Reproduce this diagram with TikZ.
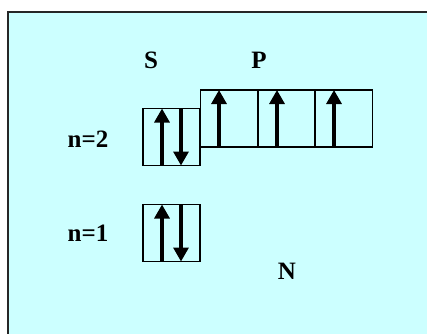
\documentclass[tikz,border=0pt]{standalone}
\usepackage{fontspec}
\setmainfont{Liberation Serif}
\usetikzlibrary{arrows.meta}
\definecolor{bgcyan}{HTML}{CCFFFF}
\begin{document}
\begin{tikzpicture}[x=1pt, y=-1pt]
        \tikzset{
            orbital/.style={rectangle, draw, line width=1.6pt, minimum width=57pt, minimum height=57pt, inner sep=0pt, outer sep=0pt},
            label/.style={font=\fontsize{25}{30}\selectfont\bfseries, inner sep=0pt},
            spin/.style={-{Triangle[width=15pt, length=14pt]}, line width=3.2pt}
        }
        \useasboundingbox (0,0) rectangle (427,333);

        % Background
        \fill[bgcyan] (8,12) rectangle (440,345);
        \draw[line width=2pt, black!85] (8,345) -- (8,12) -- (440,12);

        % Nodes
        \node[orbital] (s2) at (171.5,137) {};
        \node[orbital] (s1) at (171.5,233) {};
        \node[orbital] (p1) at (229,118.5) {};
        \node[orbital] (p2) at (286.5,118.5) {};
        \node[orbital] (p3) at (344,118.5) {};

        \node[label] (S) at (151,60) {S};
        \node[label] (P) at (259,60) {P};
        \node[label] (n2) at (88,139) {n=2};
        \node[label] (n1) at (88,233) {n=1};
        \node[label] (N) at (287,271) {N};

        % Electrons
        \draw[spin] ([xshift=-9.5pt]s2.south) -- ([xshift=-9.5pt]s2.north);
        \draw[spin] ([xshift=9.5pt]s2.north) -- ([xshift=9.5pt]s2.south);
        \draw[spin] ([xshift=-9.5pt]s1.south) -- ([xshift=-9.5pt]s1.north);
        \draw[spin] ([xshift=9.5pt]s1.north) -- ([xshift=9.5pt]s1.south);
        \draw[spin] ([xshift=-10pt]p1.south) -- ([xshift=-10pt]p1.north);
        \draw[spin] ([xshift=-9.5pt]p2.south) -- ([xshift=-9.5pt]p2.north);
        \draw[spin] ([xshift=-10pt]p3.south) -- ([xshift=-10pt]p3.north);
    \end{tikzpicture}
\end{document}
